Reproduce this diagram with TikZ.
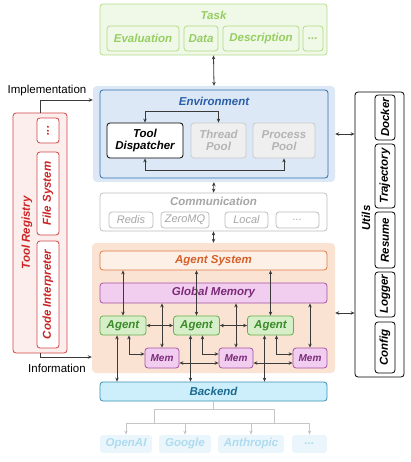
\documentclass[tikz,border=0pt]{standalone}
\usepackage{fontspec}
\setmainfont{Liberation Sans}
\usetikzlibrary{arrows.meta,calc}

\definecolor{taskfill}{HTML}{F0F8E8}
\definecolor{taskline}{HTML}{B2DE88}
\definecolor{tasktext}{HTML}{96CE62}
\definecolor{envbg}{HTML}{DCE8F6}
\definecolor{envline}{HTML}{2E6CAE}
\definecolor{envtext}{HTML}{2A5EA8}
\definecolor{poolfill}{HTML}{EFEFEF}
\definecolor{poolline}{HTML}{CACACA}
\definecolor{pooltext}{HTML}{B4B4B4}
\definecolor{commline}{HTML}{BDBDBD}
\definecolor{commtext}{HTML}{A6A6A6}
\definecolor{agentbg}{HTML}{FBE3D4}
\definecolor{sysfill}{HTML}{FDF0E7}
\definecolor{sysline}{HTML}{E07A45}
\definecolor{systext}{HTML}{D5602A}
\definecolor{memfill}{HTML}{F1CDEF}
\definecolor{memline}{HTML}{A652A2}
\definecolor{memtext}{HTML}{7B2A78}
\definecolor{agfill}{HTML}{D6EFC9}
\definecolor{agline}{HTML}{68AE4A}
\definecolor{agtext}{HTML}{3C8B2A}
\definecolor{bkfill}{HTML}{CCEFFB}
\definecolor{bkline}{HTML}{3A8FB2}
\definecolor{bktext}{HTML}{1C6A8F}
\definecolor{provfill}{HTML}{EAF6FC}
\definecolor{provtext}{HTML}{AFDBEF}
\definecolor{treeline}{HTML}{C6C6C6}
\definecolor{regfill}{HTML}{FDEEEE}
\definecolor{regline}{HTML}{D24444}
\definecolor{regtext}{HTML}{CC2424}
\definecolor{arrowgray}{HTML}{3A3A3A}

\begin{document}
\begin{tikzpicture}[x=1pt,y=-1pt,
  box/.style={draw,rounded corners=3pt,line width=0.8pt,inner sep=0pt,align=center,
    font=\fontsize{11.5}{12.5}\selectfont\bfseries\itshape},
  task/.style={box,fill=taskfill,draw=taskline,text=tasktext,minimum height=25pt},
  pool/.style={box,fill=poolfill,draw=poolline,text=pooltext,minimum height=35pt},
  chan/.style={box,fill=white,draw=commline,text=commtext,minimum height=16pt,
    font=\fontsize{11}{12}\selectfont\itshape},
  agent/.style={box,fill=agfill,draw=agline,text=agtext,minimum width=46pt,minimum height=19pt},
  mem/.style={box,fill=memfill,draw=memline,text=memtext,minimum width=34pt,minimum height=20pt,
    font=\fontsize{10}{11}\selectfont\bfseries\itshape},
  prov/.style={box,fill=provfill,draw=none,text=provtext,minimum height=18pt},
  tool/.style={box,rotate=90,fill=white,draw=regline,text=regtext,minimum height=22pt},
  util/.style={box,rotate=90,fill=white,draw=black,text=black,minimum height=20pt},
  lnk/.style={{Stealth[length=4pt,width=3.5pt]}-{Stealth[length=4pt,width=3.5pt]},
    line width=0.8pt,draw=arrowgray},
  title/.style={inner sep=0pt,font=\fontsize{11.5}{12.5}\selectfont\bfseries\itshape}]
\useasboundingbox (0,0) rectangle (410,462);

% task
\node[box,fill=taskfill,draw=taskline,minimum width=227pt,minimum height=51pt] (task) at (213.5,29.5) {};
\node[title,text=tasktext] (tasktitle) at (213.5,15) {Task};
\node[task,minimum width=72pt] (eval) at (143,38.5) {Evaluation};
\node[task,minimum width=34pt] (data) at (201,38.5) {Data};
\node[task,minimum width=76pt] (desc) at (261,38.5) {Description};
\node[task,minimum width=20pt] (tdots) at (313,38.5) {...};

% environment
\node[fill=envbg,rounded corners=4pt,minimum width=242pt,minimum height=96pt] (envbg) at (214,134) {};
\node[box,draw=envline,minimum width=228pt,minimum height=88pt] (env) at (214,134) {};
\node[title,text=envtext] (envtitle) at (214,101) {Environment};
\node[box,fill=white,draw=black,minimum width=76pt,minimum height=35pt] (disp) at (145,140.5) {Tool\\Dispatcher};
\node[pool,minimum width=55pt] (thread) at (218.5,140.5) {Thread\\Pool};
\node[pool,minimum width=62pt] (process) at (284,140.5) {Process\\Pool};
\draw[lnk] (disp.north) -- ++(0,-11) -| (thread.north);
\draw[lnk] (disp.south) -- ++(0,12) -| (process.south);

% communication
\node[box,fill=white,draw=commline,minimum width=227pt,minimum height=38pt] (comm) at (213.5,212) {};
\node[title,text=commtext] (commtitle) at (213.5,201) {Communication};
\node[chan,minimum width=44pt] (redis) at (131,220) {Redis};
\node[chan,minimum width=48pt] (zmq) at (185,220) {ZeroMQ};
\node[chan,minimum width=43pt] (local) at (246.5,220) {Local};
\node[chan,minimum width=43pt] (cdots) at (297.5,220) {...};

% agent system
\node[fill=agentbg,rounded corners=4pt,minimum width=243pt,minimum height=130pt] (agentbg) at (213.5,308) {};
\node[box,fill=sysfill,draw=sysline,text=systext,minimum width=227pt,minimum height=19pt] (sys) at (213.5,260.5) {Agent System};
\node[box,fill=memfill,draw=memline,text=memtext,minimum width=227pt,minimum height=20pt] (gm) at (213.5,293) {Global Memory};
\node[agent] (a1) at (123,325.5) {Agent};
\node[agent] (a2) at (196.5,325.5) {Agent};
\node[agent] (a3) at (270.5,325.5) {Agent};
\node[mem] (m1) at (162,358) {Mem};
\node[mem] (m2) at (236,358) {Mem};
\node[mem] (m3) at (310,358) {Mem};

% backend
\node[box,fill=bkfill,draw=bkline,text=bktext,minimum width=227pt,minimum height=19pt] (backend) at (213.5,391.5) {Backend};
\node[prov,minimum width=52pt] (openai) at (126,444) {OpenAI};
\node[prov,minimum width=52pt] (google) at (185,444) {Google};
\node[prov,minimum width=66pt] (anthropic) at (251,444) {Anthropic};
\node[prov,minimum width=35pt] (pdots) at (309.5,444) {...};

% links between layers
\draw[lnk] (task.south) -- (envbg.north);
\draw[lnk] (envbg.south) -- (comm.north);
\draw[lnk] (comm.south) -- (agentbg.north);
\draw[lnk] (sys.south -| a1) -- (a1.north);
\draw[lnk] (sys.south -| a2) -- (a2.north);
\draw[lnk] (sys.south -| a3) -- (a3.north);
\draw[lnk] (gm.south -| m1) -- (m1.north);
\draw[lnk] (gm.south -| m2) -- (m2.north);
\draw[lnk] (gm.south -| m3) -- (m3.north);
\draw[lnk] (a1.east) -- (a2.west);
\draw[lnk] (a2.east) -- (a3.west);
\draw[lnk] ([xshift=6pt]a1.south) |- ([yshift=4pt]m1.west);
\draw[lnk] ([xshift=6pt]a2.south) |- ([yshift=4pt]m2.west);
\draw[lnk] ([xshift=6pt]a3.south) |- ([yshift=4pt]m3.west);
\draw[lnk] ([yshift=-5pt]m1.east) -- ([yshift=-5pt]m2.west);
\draw[lnk] ([yshift=-5pt]m2.east) -- ([yshift=-5pt]m3.west);
\coordinate (b1) at ([xshift=-6pt]a1.south);
\coordinate (b2) at ([xshift=-6pt]a2.south);
\coordinate (b3) at ([xshift=-6pt]a3.south);
\draw[lnk] (b1) -- (b1 |- backend.north);
\draw[lnk] (b2) -- (b2 |- backend.north);
\draw[lnk] (b3) -- (b3 |- backend.north);

% backend tree
\coordinate (busL) at (154,409);
\coordinate (busR) at (274,409);
\coordinate (bus) at (126,423);
\draw[treeline,line width=0.8pt] (backend.south) -- (backend.south |- busL);
\draw[treeline,line width=0.8pt] (busL) -- (busR);
\draw[treeline,line width=0.8pt] (busL) -- (busL |- bus);
\draw[treeline,line width=0.8pt] (busR) -- (busR |- bus);
\draw[treeline,line width=0.8pt] (bus -| openai) -- (bus -| pdots);
\draw[treeline,line width=0.8pt,-{Stealth[length=4pt,width=3.5pt]}] (bus -| openai) -- (openai.north);
\draw[treeline,line width=0.8pt,-{Stealth[length=4pt,width=3.5pt]}] (bus -| google) -- (google.north);
\draw[treeline,line width=0.8pt,-{Stealth[length=4pt,width=3.5pt]}] (bus -| anthropic) -- (anthropic.north);
\draw[treeline,line width=0.8pt,-{Stealth[length=4pt,width=3.5pt]}] (bus -| pdots) -- (pdots.north);

% tool registry
\node[box,fill=regfill,draw=regline,minimum width=54pt,minimum height=240pt] (reg) at (40,233) {};
\node[title,text=regtext,rotate=90] (regtitle) at (27,233) {Tool Registry};
\node[tool,minimum width=25pt] (rdots) at (48,130.5) {...};
\node[tool,minimum width=83pt] (fs) at (48,193.5) {File System};
\node[tool,minimum width=107pt] (ci) at (48,294.5) {Code Interpreter};
\draw[arrowgray,line width=0.8pt,-{Stealth[length=4pt,width=3.5pt]}] (reg.north) |- ([yshift=34pt]envbg.west);
\draw[arrowgray,line width=0.8pt,-{Stealth[length=4pt,width=3.5pt]}] (reg.south) |- ([yshift=-49pt]agentbg.west);
\node[inner sep=0pt,font=\fontsize{11.5}{12.5}\selectfont] (impl) at (47,91) {Implementation};
\node[inner sep=0pt,font=\fontsize{11.5}{12.5}\selectfont] (info) at (57,368) {Information};

% utils
\node[box,fill=white,draw=black,minimum width=49pt,minimum height=285pt] (utils) at (379.5,234.5) {};
\node[title,rotate=90] (utilstitle) at (366,218) {Utils};
\node[util,minimum width=45pt] (docker) at (385,117.5) {Docker};
\node[util,minimum width=64pt] (traj) at (385,176) {Trajectory};
\node[util,minimum width=56pt] (resume) at (385,240) {Resume};
\node[util,minimum width=45pt] (logger) at (385,294.5) {Logger};
\node[util,minimum width=51pt] (config) at (385,347.5) {Config};
\coordinate (u1) at (envbg.east);
\coordinate (u2) at ([yshift=-5pt]agentbg.east);
\draw[lnk] (u1) -- (u1 -| utils.west);
\draw[lnk] (u2) -- (u2 -| utils.west);
\end{tikzpicture}
\end{document}
